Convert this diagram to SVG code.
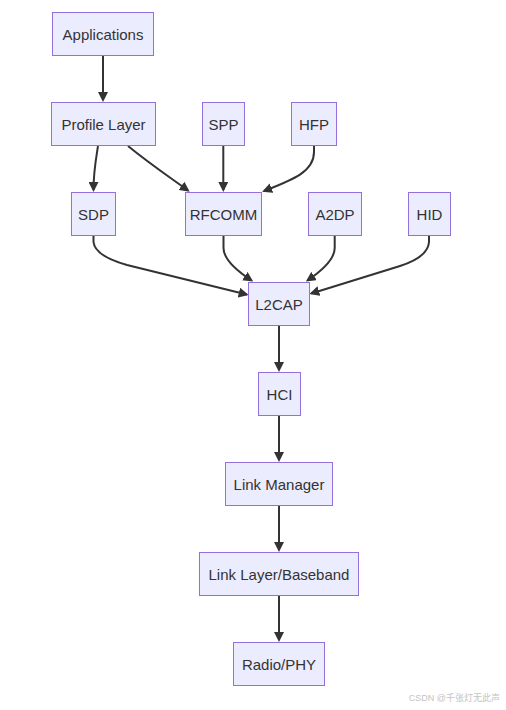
<svg xmlns="http://www.w3.org/2000/svg" width="506" height="710" viewBox="0 0 506 710">
<style>
.node rect{fill:#ECECFF;stroke:#9370DB;stroke-width:1}
.node text{font-family:"Liberation Sans",Arial,sans-serif;font-size:15px;fill:#333;text-anchor:middle;dominant-baseline:central}
.edges path{fill:none;stroke:#333;stroke-width:2}
.wm{font-family:"Liberation Sans","Noto Sans CJK SC",sans-serif;font-size:9px;fill:#c4c4c4;text-anchor:end}
</style>
<defs>
<marker id="arrow" viewBox="0 0 10 10" refX="8" refY="5" markerWidth="10" markerHeight="10" markerUnits="userSpaceOnUse" orient="auto">
<path d="M0,0 L10,5 L0,10 z" fill="#333"/>
</marker>
</defs>
<rect width="506" height="710" fill="#fff"/>
<g class="edges">
<path d="M103,55.5 L103,100" marker-end="url(#arrow)"/>
<path d="M98,146 C95.5,162 93.5,172 93.5,190" marker-end="url(#arrow)"/>
<path d="M128,146 C150,164 168,176 188,190.5" marker-end="url(#arrow)"/>
<path d="M223.3,146 L223.3,190" marker-end="url(#arrow)"/>
<path d="M314,146 L314,152 C314,172 292,180 264,191" marker-end="url(#arrow)"/>
<path d="M93.5,236 L93.5,242 Q95,256 127,265 L246.7,294.5" marker-end="url(#arrow)"/>
<path d="M223.5,236 L223.5,248 Q223.5,262 251.5,280.5" marker-end="url(#arrow)"/>
<path d="M334.7,236 L334.7,248 Q334.7,262 307.5,280.5" marker-end="url(#arrow)"/>
<path d="M429,236 L429,242 Q428,257 400,266 L311.3,293.5" marker-end="url(#arrow)"/>
<path d="M279,325.5 L279,370" marker-end="url(#arrow)"/>
<path d="M279,415.5 L279,460" marker-end="url(#arrow)"/>
<path d="M279,505.5 L279,550" marker-end="url(#arrow)"/>
<path d="M279,595.5 L279,640" marker-end="url(#arrow)"/>
</g>
<g id="applications" class="node"><rect x="52.5" y="12.5" width="101" height="43"/><text x="103" y="34">Applications</text></g>
<g id="profile" class="node"><rect x="51.5" y="102.5" width="104" height="43"/><text x="103.5" y="124">Profile Layer</text></g>
<g id="spp" class="node"><rect x="202.5" y="102.5" width="42" height="43"/><text x="223.5" y="124">SPP</text></g>
<g id="hfp" class="node"><rect x="291.5" y="102.5" width="45" height="43"/><text x="314" y="124">HFP</text></g>
<g id="sdp" class="node"><rect x="71.5" y="192.5" width="44" height="43"/><text x="93.5" y="214">SDP</text></g>
<g id="rfcomm" class="node"><rect x="185.5" y="192.5" width="76" height="43"/><text x="223.5" y="214">RFCOMM</text></g>
<g id="a2dp" class="node"><rect x="308.5" y="192.5" width="53" height="43"/><text x="335" y="214">A2DP</text></g>
<g id="hid" class="node"><rect x="408.5" y="192.5" width="42" height="43"/><text x="429.5" y="214">HID</text></g>
<g id="l2cap" class="node"><rect x="248.5" y="282.5" width="61" height="43"/><text x="279" y="304">L2CAP</text></g>
<g id="hci" class="node"><rect x="258.5" y="372.5" width="42" height="43"/><text x="279.5" y="394">HCI</text></g>
<g id="linkmanager" class="node"><rect x="225.5" y="462.5" width="107" height="43"/><text x="279" y="484">Link Manager</text></g>
<g id="linklayer" class="node"><rect x="199.5" y="552.5" width="159" height="43"/><text x="279" y="574">Link Layer/Baseband</text></g>
<g id="radio" class="node"><rect x="233.5" y="642.5" width="91" height="43"/><text x="279" y="664">Radio/PHY</text></g>
<text class="wm" x="500" y="701">CSDN @千张灯无此声</text>
</svg>
